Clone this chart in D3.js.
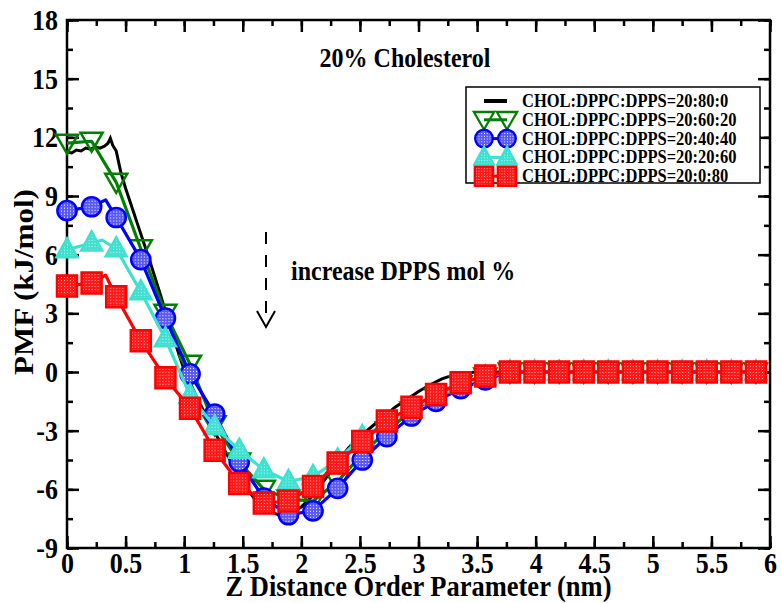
<!DOCTYPE html>
<html>
<head>
<meta charset="utf-8">
<script src="https://cdn.jsdelivr.net/npm/d3@7"></script>
<style>
  body { margin: 0; background: #fff; }
  text { font-family: "Liberation Serif", "Times New Roman", serif; font-weight: bold; }
</style>
</head>
<body>
<div id="figure"></div>
<script>
// marker positions (nm) and PMF values (kJ/mol)
var zPos = [0, 0.21, 0.42, 0.63, 0.84, 1.05, 1.26, 1.47, 1.68, 1.89, 2.10, 2.31, 2.52, 2.73, 2.94,
            3.15, 3.36, 3.57, 3.78, 3.99, 4.20, 4.41, 4.62, 4.83, 5.04, 5.25, 5.46, 5.67, 5.88];

var pmf6020 = [11.7, 11.8, 9.7, 6.3, 3.0, 0.4, -2.7, -4.6, -6.0, -6.5, -6.6, -5.6, -4.2, -3.0, -2.0,
               -1.3, -0.65, -0.25, 0, 0, 0, 0, 0, 0, 0, 0, 0, 0, 0];
var pmf4040 = [8.25, 8.45, 7.9, 5.75, 2.75, -0.1, -2.15, -4.6, -6.45, -7.3, -7.1, -5.95, -4.5, -3.3, -2.25,
               -1.5, -0.85, -0.4, 0, 0, 0, 0, 0, 0, 0, 0, 0, 0, 0];
var pmf2060 = [6.25, 6.6, 6.3, 4.1, 1.7, -1.2, -2.8, -4.0, -5.0, -5.6, -5.35, -4.5, -3.3, -2.6, -1.9,
               -1.25, -0.65, -0.25, 0, 0, 0, 0, 0, 0, 0, 0, 0, 0, 0];
var pmf2080 = [4.4, 4.55, 3.85, 1.6, -0.3, -1.85, -4.0, -5.7, -6.7, -6.6, -5.85, -4.65, -3.55, -2.5, -1.8,
               -1.15, -0.55, -0.2, 0, 0, 0, 0, 0, 0, 0, 0, 0, 0, 0];

// a few extra points of the lines between markers
var extra4040 = [[0.33, 8.8]];
var extra2060 = [[0.30, 6.75]];
var extra2080 = [[0.33, 4.95]];

// 20:80:0 has no markers, only a noisy line
var blackZ   = [0, 0.04, 0.08, 0.12, 0.16, 0.2, 0.24, 0.28, 0.32, 0.35, 0.37, 0.39, 0.42, 0.46, 0.5, 0.55,
                0.6, 0.7, 0.8, 0.9, 1.0, 1.1, 1.2, 1.3, 1.4, 1.5, 1.6, 1.7, 1.8, 1.9, 2.0, 2.1, 2.2, 2.3,
                2.4, 2.5, 2.6, 2.7, 2.8, 2.9, 3.0, 3.1, 3.2, 3.3, 3.4, 3.5, 3.6, 5.9];
var blackPMF = [11.25, 11.2, 11.35, 11.3, 11.45, 11.4, 11.5, 11.45, 11.55, 11.7, 11.95, 11.6, 11.3, 10.2, 9.4, 8.5,
                7.6, 5.8, 3.9, 1.9, 0.1, -1.2, -2.4, -3.5, -4.6, -5.6, -6.5, -7.0, -7.3, -7.25, -6.9, -6.3, -5.5, -4.7,
                -3.9, -3.3, -2.8, -2.3, -1.8, -1.4, -1.0, -0.65, -0.35, -0.15, -0.05, 0, 0, 0];

var legendLabels = ["CHOL:DPPC:DPPS=20:80:0", "CHOL:DPPC:DPPS=20:60:20", "CHOL:DPPC:DPPS=20:40:40",
                    "CHOL:DPPC:DPPS=20:20:60", "CHOL:DPPC:DPPS=20:0:80"];
var xTicks = [0, 0.5, 1, 1.5, 2, 2.5, 3, 3.5, 4, 4.5, 5, 5.5, 6];
var yTicks = [-9, -6, -3, 0, 3, 6, 9, 12, 15, 18];

var W = 782, H = 603;
var margin = {top: 20, right: 12, bottom: 55, left: 67};
var width = W - margin.left - margin.right,
    height = H - margin.top - margin.bottom;
var K = 1.15; // the text in the picture is drawn taller than wide

var svg = d3.select("#figure").append("svg")
    .attr("width", W)
    .attr("height", H);

var defs = svg.append("defs");
function dotPattern(id, bg, dot) {
  var p = defs.append("pattern")
      .attr("id", id)
      .attr("width", 3).attr("height", 3)
      .attr("patternUnits", "userSpaceOnUse");
  p.append("rect").attr("width", 3).attr("height", 3).attr("fill", bg);
  p.append("rect").attr("width", 1).attr("height", 1).attr("fill", dot);
}
dotPattern("blueDots", "#5a5af2", "#ffffff");
dotPattern("redDots", "#ff1a1a", "#ffb0b0");
dotPattern("cyanDots", "#40e0d0", "#c8f7f2");

var g = svg.append("g")
    .attr("transform", "translate(" + margin.left + "," + margin.top + ")");

var x = d3.scaleLinear().domain([0, 6]).range([0, width]);
var y = d3.scaleLinear().domain([-9, 18]).range([height, 0]);

function stretch(sel) {
  sel.each(function() {
    var t = d3.select(this);
    var yv = +t.attr("y") || 0;
    t.attr("y", yv / K).attr("transform", (t.attr("transform") || "") + " scale(1," + K + ")");
  });
}

// frame with inward ticks on all sides
var minorX = d3.range(0, 6.01, 0.25), minorY = d3.range(-9, 18.01, 1.5);
function axisSet(axisFn, scale, major, minor, transform, labels, pad) {
  g.append("g").attr("transform", transform)
    .call(axisFn(scale).tickValues(minor).tickSize(-6).tickFormat(""))
    .call(function(s) { s.select(".domain").remove(); });
  var a = g.append("g").attr("transform", transform)
    .call(axisFn(scale).tickValues(major).tickSize(-12).tickPadding(pad || 0)
      .tickFormat(labels ? function(d) { return String(d); } : ""));
  a.select(".domain").remove();
  a.selectAll("text").style("font-size", "26px").attr("fill", "#000").call(stretch);
  return a;
}
axisSet(d3.axisBottom, x, xTicks, minorX, "translate(0," + height + ")", true, 4);
axisSet(d3.axisTop, x, xTicks, minorX, "translate(0,0)", false);
axisSet(d3.axisLeft, y, yTicks, minorY, "translate(0,0)", true, 9);
axisSet(d3.axisRight, y, yTicks, minorY, "translate(" + width + ",0)", false);
g.selectAll(".tick line").attr("stroke", "#000").attr("stroke-width", 2.5);

g.append("rect")
    .attr("width", width).attr("height", height)
    .attr("fill", "none").attr("stroke", "#000").attr("stroke-width", 2.5);

var line = d3.line().x(function(d) { return x(d[0]); }).y(function(d) { return y(d[1]); });

function linePoints(vals, extra) {
  return zPos.map(function(z, i) { return [z, vals[i]]; })
    .concat(extra || [])
    .sort(function(a, b) { return a[0] - b[0]; });
}

var series = [
  {vals: pmf6020, extra: [], color: "#008000", shape: "down"},
  {vals: pmf4040, extra: extra4040, color: "#0000ff", shape: "circle"},
  {vals: pmf2060, extra: extra2060, color: "#40e0d0", shape: "up"},
  {vals: pmf2080, extra: extra2080, color: "#ff0000", shape: "square"}
];

function markerPath(shape) {
  if (shape === "circle") return d3.symbol(d3.symbolCircle, 290)();
  if (shape === "square") return "M-10,-10.5H10V10.5H-10Z";
  if (shape === "up") return "M0,-11.5L10.5,7.5L-10.5,7.5Z";
  return "M0,10.5L-11,-8.5L11,-8.5Z";
}
function markerFill(s) {
  if (s.shape === "circle") return "url(#blueDots)";
  if (s.shape === "square") return "url(#redDots)";
  if (s.shape === "up") return "url(#cyanDots)";
  return "none";
}

// black line first
g.append("path")
    .datum(blackZ.map(function(z, i) { return [z, blackPMF[i]]; }))
    .attr("d", line)
    .attr("fill", "none").attr("stroke", "#000").attr("stroke-width", 3);

series.forEach(function(s) {
  var sg = g.append("g");
  sg.append("path")
      .datum(linePoints(s.vals, s.extra))
      .attr("d", line)
      .attr("fill", "none").attr("stroke", s.color).attr("stroke-width", 3.2)
      .attr("stroke-linejoin", "round");
  sg.selectAll("path.m")
    .data(zPos.map(function(z, i) { return [z, s.vals[i]]; }))
    .enter().append("path")
      .attr("class", "m")
      .attr("d", markerPath(s.shape))
      .attr("transform", function(d) { return "translate(" + x(d[0]) + "," + y(d[1]) + ")"; })
      .attr("fill", markerFill(s))
      .attr("stroke", s.color).attr("stroke-width", 2.5);
});

// title, annotation and axis labels
svg.append("text")
    .attr("transform", "translate(405,67) scale(1," + K + ")")
    .attr("text-anchor", "middle")
    .style("font-size", "24px")
    .text("20% Cholesterol");

svg.append("line")
    .attr("x1", 266).attr("x2", 266).attr("y1", 232).attr("y2", 322)
    .attr("stroke", "#000").attr("stroke-width", 2)
    .attr("stroke-dasharray", "12,11");
svg.append("path")
    .attr("d", "M257,311L266,327L275,311")
    .attr("fill", "none").attr("stroke", "#000").attr("stroke-width", 2);
svg.append("text")
    .attr("transform", "translate(291,280) scale(1," + K + ")")
    .style("font-size", "24px")
    .text("increase DPPS mol %");

svg.append("text")
    .attr("transform", "translate(" + (margin.left + width / 2) + ",596) scale(1," + K + ")")
    .attr("text-anchor", "middle")
    .style("font-size", "26.5px")
    .text("Z Distance Order Parameter (nm)");

svg.append("text")
    .attr("transform", "translate(33,282) rotate(-90) scale(" + K + ",1)")
    .attr("text-anchor", "middle")
    .style("font-size", "27px")
    .text("PMF (kJ/mol)");

// legend
var lg = svg.append("g").attr("transform", "translate(466,87)");
lg.append("rect")
    .attr("width", 294).attr("height", 96)
    .attr("fill", "#fff").attr("stroke", "#000").attr("stroke-width", 1.5);
var legendSeries = [{color: "#000", shape: null}].concat(series);
legendSeries.forEach(function(s, i) {
  var ly = 14 + i * 18.8;
  var row = lg.append("g").attr("transform", "translate(0," + ly + ")");
  row.append("line")
      .attr("x1", 18).attr("x2", 41).attr("y1", 0).attr("y2", 0)
      .attr("stroke", s.color).attr("stroke-width", s.shape ? 3 : 4);
  if (s.shape) {
    [18, 41].forEach(function(mx) {
      row.append("path")
          .attr("d", markerPath(s.shape))
          .attr("transform", "translate(" + mx + ",0) scale(0.92)")
          .attr("fill", markerFill(s))
          .attr("stroke", s.color).attr("stroke-width", 2.5);
    });
  }
  row.append("text")
      .attr("transform", "translate(56,6) scale(1," + K + ")")
      .style("font-size", "16.5px")
      .text(legendLabels[i]);
});
</script>
</body>
</html>
